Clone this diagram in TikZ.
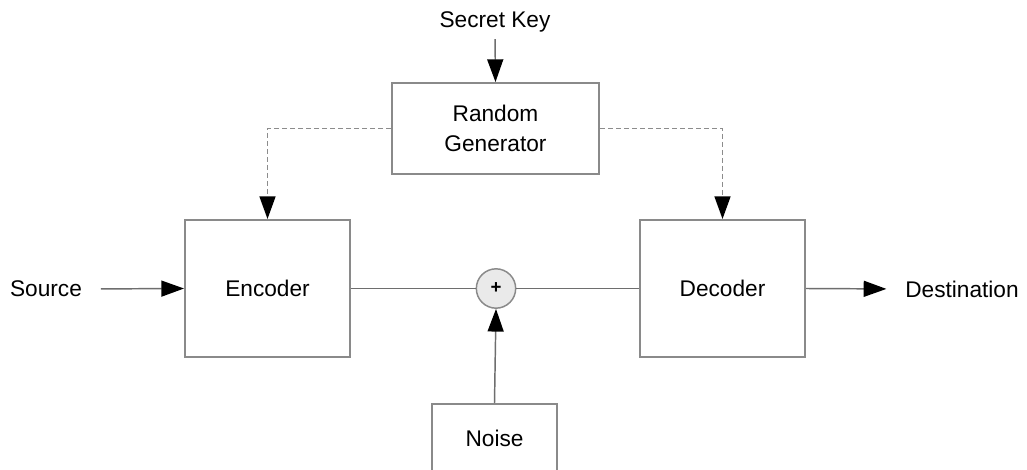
\documentclass[tikz,border=0pt]{standalone}
\usepackage{fontspec}
\setmainfont{Liberation Sans}
\usetikzlibrary{arrows.meta}
\definecolor{boxline}{HTML}{8A8A8A}
\definecolor{wire}{HTML}{6E6E6E}
\definecolor{dashwire}{HTML}{8C8C8C}
\definecolor{sumfill}{HTML}{EAEAEA}
\tikzset{
  lbl/.style={font=\fontsize{17}{22.5}\selectfont, inner sep=3pt},
  blk/.style={draw=boxline, line width=1.5pt, fill=white, align=center,
              font=\fontsize{17}{22.5}\selectfont, inner sep=0pt},
  wireline/.style={draw=wire, line width=1.1pt},
  tip/.style={-{Triangle[length=17pt,width=12pt,color=black,fill=black]}},
  ctl/.style={draw=dashwire, line width=1.2pt, dash pattern=on 3.75pt off 2.25pt,
              -{Triangle[length=17pt,width=12pt,color=black,fill=black]}},
  sumnode/.style={circle, draw=boxline, fill=sumfill, line width=1.1pt,
                  minimum size=29.5pt, inner sep=0pt, font=\fontsize{14}{16}\selectfont}
}
\begin{document}
\begin{tikzpicture}[x=0.75pt, y=-0.75pt]
  \useasboundingbox (0,0) rectangle (1027,470);
  \clip (0,0) rectangle (1027,470);
  \fill[white] (0,0) rectangle (1027,470);

  % blocks
  \node[blk, minimum width=155.25pt, minimum height=68.25pt] (rg) at (495.5,128.5) {Random\\Generator};
  \node[blk, minimum width=123.75pt, minimum height=102.75pt] (enc) at (267.5,288.5) {Encoder};
  \node[blk, minimum width=123.75pt, minimum height=102.75pt] (dec) at (722.5,288.5) {Decoder};
  \node[blk, anchor=north, minimum width=93.75pt, minimum height=60pt,
        text height=12pt, text depth=9pt] (noise) at (494.5,403) {Noise};
  \node[sumnode] (sum) at (496,288.5) {\textbf{+}};

  % terminal labels
  \node[lbl] (key) at (495,22) {Secret Key};
  \node[lbl] (src) at (46,289) {Source};
  \node[lbl] (dst) at (962,289) {Destination};

  % signal path
  \draw[wireline, tip, shorten <=11pt] (src.east) -- (enc.west);
  \draw[wireline] (enc.east) -- (sum.west);
  \draw[wireline] (sum.east) -- (dec.west);
  \draw[wireline, tip, shorten >=11pt] (dec.east) -- (dst.west);
  \draw[wireline, tip] (noise.north) -- (sum.south);
  \draw[wireline, tip, shorten <=2pt] (key.south) -- (rg.north);

  % key stream to encoder and decoder
  \draw[ctl] (rg.west) -| (enc.north);
  \draw[ctl] (rg.east) -| (dec.north);
\end{tikzpicture}
\end{document}
